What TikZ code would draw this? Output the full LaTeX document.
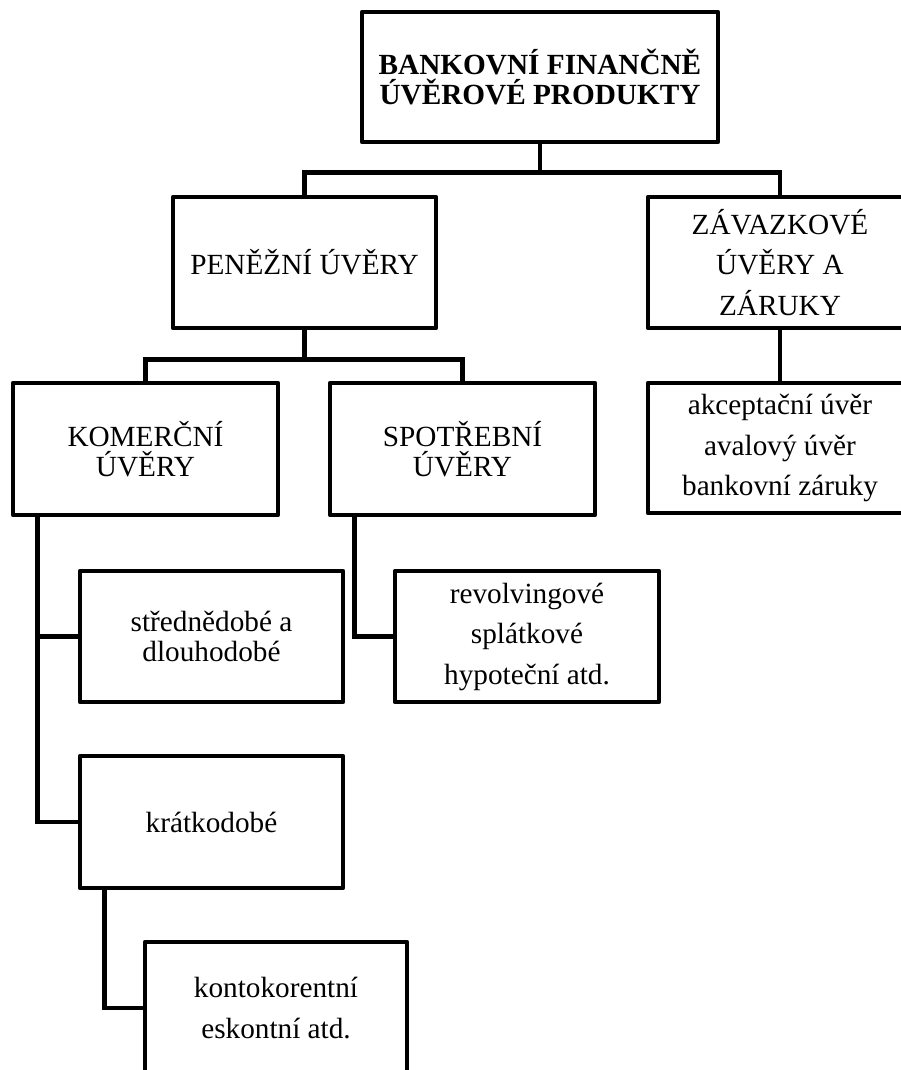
\documentclass[tikz,border=0pt]{standalone}
\usepackage{fontspec}
\setmainfont{Liberation Serif}
\usepackage{tikz}

\begin{document}
\begin{tikzpicture}[
        x=0.025cm, y=-0.025cm,
        box/.style={draw, line width=3.2pt, line join=round, align=center, inner sep=0pt,
            font=\fontsize{20.8}{21.3}\selectfont},
        wide/.style={box, font=\fontsize{20.8}{28.8}\selectfont},
        link/.style={line width=3.2pt, line join=miter}
    ]
    \useasboundingbox (0,0) rectangle (900,1070);

    % ---- TOP ----
    \node[box, minimum width=8.9cm, minimum height=3.25cm, font=\fontsize{20.8}{21.3}\selectfont\bfseries]
        (top) at (540, 77) {BANKOVNÍ FINANČNĚ\\ÚVĚROVÉ PRODUKTY};

    % ---- SECOND LEVEL ----
    \node[box, minimum width=6.575cm, minimum height=3.275cm] (pen) at (304.5, 262.5) {PENĚŽNÍ ÚVĚRY};
    \node[wide, minimum width=6.6cm, minimum height=3.275cm] (zav) at (780, 262.5) {ZÁVAZKOVÉ\\ÚVĚRY A\\ZÁRUKY};
    \node[wide, minimum width=6.6cm, minimum height=3.25cm] (akc) at (780, 448)
        {akceptační úvěr\\avalový úvěr\\bankovní záruky};

    % ---- THIRD LEVEL ----
    \node[box, minimum width=6.625cm, minimum height=3.3cm] (kom) at (145.5, 449) {KOMERČNÍ\\ÚVĚRY};
    \node[box, minimum width=6.625cm, minimum height=3.3cm] (spo) at (462.5, 449) {SPOTŘEBNÍ\\ÚVĚRY};

    \node[box, minimum width=6.575cm, minimum height=3.275cm] (str) at (211.5, 636.5) {střednědobé a\\dlouhodobé};
    \node[box, minimum width=6.575cm, minimum height=3.3cm] (kra) at (211.5, 822) {krátkodobé};
    \node[wide, minimum width=6.55cm, minimum height=3.3cm] (kon) at (276, 1008) {kontokorentní\\eskontní atd.};
    \node[wide, minimum width=6.6cm, minimum height=3.275cm] (rev) at (527, 636.5)
        {revolvingové\\splátkové\\hypoteční atd.};

    % ---- CONNECTORS ----
    \draw[link] (top.south) -- ++(0,28) -| (pen.north);
    \draw[link] (top.south) -- ++(0,28) -| (zav.north);
    \draw[link] (zav.south) -- (akc.north);

    \draw[link] (pen.south) -- ++(0,29) -| (kom.north);
    \draw[link] (pen.south) -- ++(0,29) -| (spo.north);

    \draw[link] (kom.south west) ++(27,0) |- (str.west);
    \draw[link] (kom.south west) ++(27,0) |- (kra.west);
    \draw[link] (kra.south west) ++(27,0) |- (kon.west);
    \draw[link] (spo.south west) ++(27,0) |- (rev.west);

\end{tikzpicture}
\end{document}
